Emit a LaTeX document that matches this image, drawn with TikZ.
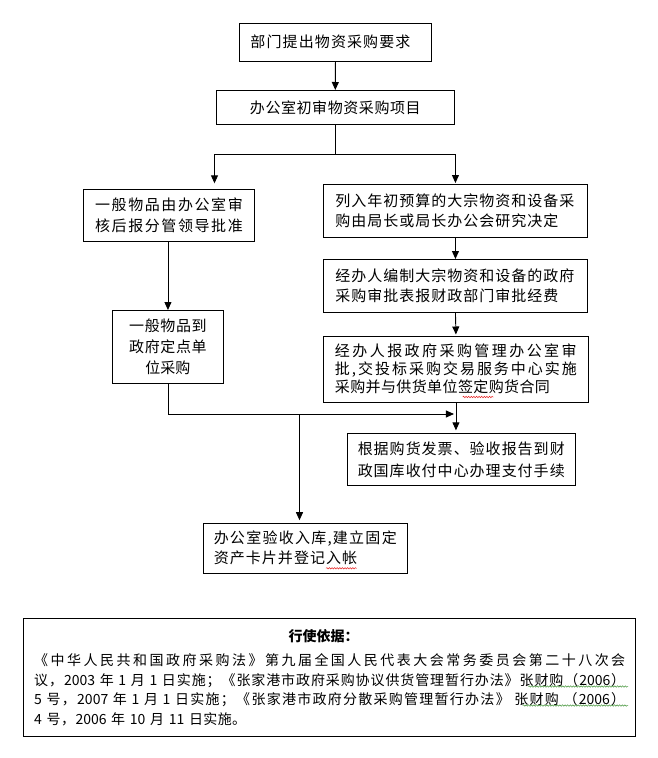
\documentclass[tikz,border=0pt]{standalone}
\usepackage{fontspec}
\newfontfamily\cjk{Noto Sans CJK SC}
\usetikzlibrary{arrows.meta,decorations.pathmorphing}
\XeTeXinterchartokenstate=1
\newXeTeXintercharclass\cjkcls
\makeatletter
\count@="3000
\loop\ifnum\count@<"A000 \XeTeXcharclass\count@=\cjkcls\relax\advance\count@ by 1 \repeat
\count@="FF00
\loop\ifnum\count@<"FFF0 \XeTeXcharclass\count@=\cjkcls\relax\advance\count@ by 1 \repeat
\makeatother
\XeTeXinterchartoks\cjkcls\cjkcls={\hskip0pt plus 4pt minus 0.6pt\relax}
\XeTeXinterchartoks\cjkcls 0 ={\hskip0pt plus 4pt minus 0.6pt\relax}
\XeTeXinterchartoks 0 \cjkcls={\hskip0pt plus 4pt minus 0.6pt\relax}
\newcommand\jline[2]{\makebox[#1pt][s]{#2}}
\definecolor{sqred}{RGB}{230,30,30}
\definecolor{sqgreen}{RGB}{70,150,60}
\begin{document}
\begin{tikzpicture}[x=1pt,y=-1pt,
  box/.style={draw, line width=0.9pt, anchor=north west, inner ysep=0pt,
    font=\cjk\fontsize{15}{21}\selectfont},
  arr/.style={line width=0.9pt, -{Triangle[length=8pt,width=7pt]}},
  ln/.style={line width=0.9pt},
  sq/.style={line width=0.5pt, decorate, decoration={snake, amplitude=0.7pt, segment length=2.6pt}}]
\useasboundingbox[fill=white] (0,0) rectangle (658,758);

\node[box, align=left, inner xsep=11pt, text width=170pt, minimum height=38pt] (A) at (239,23)
  {\raisebox{2pt}{\jline{160}{部门提出物资采购要求}}};
\node[box, align=center, inner xsep=10pt, text width=218.3pt, minimum height=34.3pt] (B) at (215.7,90)
  {\jline{170.7}{办公室初审物资采购项目}};
\node[box, align=left, inner xsep=11.35pt, text width=147.7pt, minimum height=52pt] (C) at (83.3,189.3)
  {\jline{147.7}{一般物品由办公室审}\\\jline{147.7}{核后报分管领导批准}};
\node[box, align=center, inner xsep=5pt, text width=100.4pt, minimum height=73.3pt] (D) at (112.3,310)
  {\jline{77.5}{一般物品到}\\\jline{77.5}{政府定点单}\\\jline{45}{位采购}};
\node[box, align=left, inner xsep=12pt, text width=240pt, minimum height=52.7pt,
  font=\cjk\fontsize{15}{20.6}\selectfont] (E) at (323,184)
  {\jline{239}{列入年初预算的大宗物资和设备采}\\\jline{223}{购由局长或局长办公会研究决定}};
\node[box, align=left, inner xsep=12pt, text width=240pt, minimum height=52.7pt,
  font=\cjk\fontsize{15}{20}\selectfont] (F) at (323,259)
  {\jline{239}{经办人编制大宗物资和设备的政府}\\\jline{223}{采购审批表报财政部门审批经费}};
\node[box, align=left, inner xsep=11.5pt, text width=242pt, minimum height=66.5pt,
  font=\cjk\fontsize{15}{18}\selectfont] (G) at (323,335.5)
  {\jline{241.7}{经办人报政府采购管理办公室审}\\\jline{242}{批,交投标采购交易服务中心实施}\\\jline{215}{采购并与供货单位签定购货合同}};
\node[box, align=left, inner xsep=10pt, text width=208pt, minimum height=51.7pt,
  font=\cjk\fontsize{15}{21.7}\selectfont] (H) at (347.3,433.3)
  {\jline{207}{根据购货发票、验收报告到财}\\\jline{207}{政国库收付中心办理支付手续}};
\node[box, align=left, inner xsep=10pt, text width=183.7pt, minimum height=50pt,
  font=\cjk\fontsize{15}{20}\selectfont] (I) at (203.3,522.7)
  {\jline{183}{办公室验收入库,建立固定}\\\jline{143.4}{资产卡片并登记入帐}};
\node[box, align=center, inner xsep=10.5pt, text width=591pt, minimum height=117.7pt,
  font=\cjk\fontsize{14}{19.6}\selectfont] (J) at (23.3,618.3)
  {\makebox[591pt][c]{\hspace{-12pt}{\bfseries 行使依据：}}\\[4.4pt]
   \jline{591}{《中华人民共和国政府采购法》第九届全国人民代表大会常务委员会第二十八次会}\\
   \jline{591}{议，2003 年 1 月 1 日实施；《张家港市政府采购协议供货管理暂行办法》张财购（2006）}\\
   \jline{591}{5 号，2007 年 1 月 1 日实施；《张家港市政府分散采购管理暂行办法》 张财购 （2006）}\\
   \makebox[591pt][l]{\jline{212}{4 号，2006 年 10 月 11 日实施。}}};

% connectors
\draw[arr] (A.south) -- (B.north);
\coordinate (split) at (B.south |- 0,154);
\coordinate (cl) at (214.5,154);
\draw[ln] (B.south) -- (split);
\draw[arr, shorten >=6pt] (split) -- (cl) -- (cl |- C.north);
\draw[arr, shorten >=1pt] (split) -| (E.north);
\draw[arr] (C.south -| D.north) -- (D.north);
\draw[arr] (E.south) -- (F.north);
\draw[arr, shorten >=1pt] (F.south) -- (G.north);
\draw[arr, shorten >=3pt] (G.south) -- (G.south |- H.north);
\coordinate (mj) at (G.south |- 0,414);
\draw[arr, shorten >=2pt] (D.south) |- (mj);
\coordinate (bj) at (299.5,414);
\draw[arr, shorten >=2.5pt] (bj) -- (bj |- I.north);

% proofing squiggles
\draw[sq, sqred] (462.7,397) -- (493.3,397);
\draw[sq, sqred] (326,568.3) -- (356.7,568.3);
\draw[sq, sqgreen] (528.3,686.5) -- (628,686.5);
\draw[sq, sqgreen] (522.7,705.5) -- (628,705.5);
\end{tikzpicture}
\end{document}
